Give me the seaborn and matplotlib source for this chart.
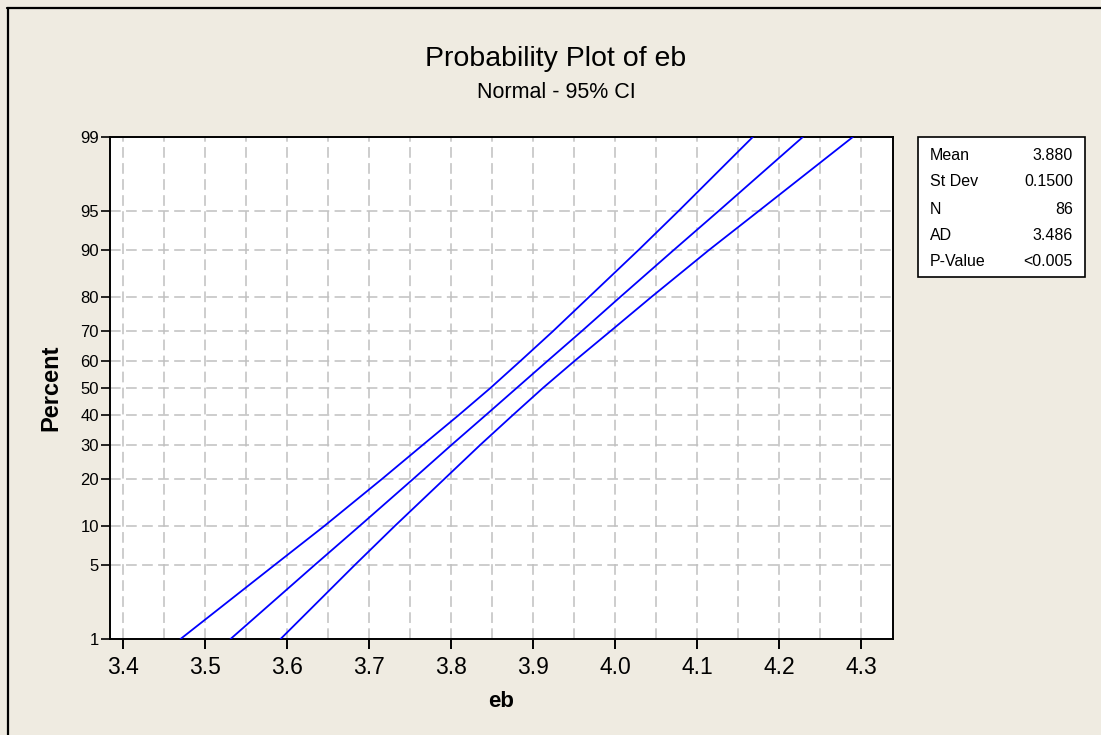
import matplotlib
matplotlib.use("Agg")
import matplotlib.pyplot as plt
from matplotlib.lines import Line2D
from matplotlib.patches import Rectangle
import seaborn as sns
import pandas as pd
import numpy as np
from statistics import NormalDist

# ---- data ----
percent_levels = [1, 5, 10, 20, 30, 40, 50, 60, 70, 80, 90, 95, 99]
fit_eb   = [3.531, 3.633, 3.688, 3.754, 3.801, 3.842, 3.880, 3.918, 3.959, 4.006, 4.072, 4.127, 4.229]
lower_eb = [3.470, 3.584, 3.645, 3.716, 3.766, 3.809, 3.848, 3.885, 3.924, 3.968, 4.029, 4.078, 4.168]
upper_eb = [3.592, 3.682, 3.731, 3.792, 3.836, 3.875, 3.912, 3.951, 3.994, 4.044, 4.115, 4.176, 4.290]

y_tick_percents = [1, 5, 10, 20, 30, 40, 50, 60, 70, 80, 90, 95, 99]
x_ticks = [3.4, 3.5, 3.6, 3.7, 3.8, 3.9, 4.0, 4.1, 4.2, 4.3]
x_tick_labels = ["3.4", "3.5", "3.6", "3.7", "3.8", "3.9", "4.0", "4.1", "4.2", "4.3"]

stat_labels = ["Mean", "St Dev", "N", "AD", "P-Value"]
stat_values = ["3.880", "0.1500", "86", "3.486", "<0.005"]

title = "Probability Plot of eb"
subtitle = "Normal - 95% CI"

# ---- build long-form table ----
nd = NormalDist()
rows = []
for name, xs in [("lower", lower_eb), ("fit", fit_eb), ("upper", upper_eb)]:
    for p, xv in zip(percent_levels, xs):
        rows.append({"line": name, "eb": xv, "z": nd.inv_cdf(p / 100.0)})
df = pd.DataFrame(rows)

sns.set_style("white")
plt.rcParams["font.family"] = ["Liberation Sans", "DejaVu Sans"]
plt.rcParams["text.color"] = "black"
plt.rcParams["axes.labelcolor"] = "black"

bg = "#EFEBE1"
fig = plt.figure(figsize=(11.01, 7.35), dpi=100, facecolor=bg)
ax = fig.add_axes([110 / 1101, 1 - 639 / 735, (893 - 110) / 1101, (639 - 137) / 735])
ax.set_facecolor("white")

sns.lineplot(data=df, x="eb", y="z", hue="line", units="line", estimator=None,
             sort=False, palette={"lower": "#0000FF", "fit": "#0000FF", "upper": "#0000FF"},
             linewidth=1.3, legend=False, ax=ax, zorder=3)

# axes limits / ticks
ax.set_xlim(3.384, 4.339)
ax.set_ylim(nd.inv_cdf(0.01), nd.inv_cdf(0.99))
ax.set_xticks(x_ticks)
ax.set_xticklabels(x_tick_labels)
ax.set_xticks([t + 0.05 for t in x_ticks[:-1]], minor=True)
ax.set_yticks([nd.inv_cdf(p / 100.0) for p in y_tick_percents])
ax.set_yticklabels([str(p) for p in y_tick_percents])

ax.tick_params(axis="x", which="major", direction="out", length=7, width=1.4,
               labelsize=16.5, pad=5, colors="black", bottom=True)
ax.tick_params(axis="x", which="minor", length=0, bottom=True)
ax.tick_params(axis="y", which="major", direction="out", length=6.5, width=1.2,
               labelsize=12, pad=1.5, colors="black", left=True)

ax.set_axisbelow(True)
grid_kw = dict(color="#C0C0C0", linewidth=1.1, linestyle=(0, (7, 3.5)))
ax.grid(True, axis="x", which="both", **grid_kw)
ax.grid(True, axis="y", which="major", **grid_kw)

for s in ax.spines.values():
    s.set_visible(True)
    s.set_color("black")
    s.set_linewidth(1.4)

ax.set_xlabel("eb", fontsize=16, fontweight="bold", color="black")
ax.set_ylabel("Percent", fontsize=17, fontweight="bold", color="black")
ax.xaxis.set_label_coords(0.5, -0.103)
ax.yaxis.set_label_coords(-0.061, 0.5)

# titles
fig.text(556 / 1101, 1 - 59 / 735, title, ha="center", va="center", fontsize=20.5, color="black")
fig.text(556 / 1101, 1 - 92 / 735, subtitle, ha="center", va="center", fontsize=15.5, color="black")

# stats box
bx0, bx1 = 918 / 1101, 1085 / 1101
by0, by1 = 1 - 277 / 735, 1 - 137 / 735
fig.add_artist(Rectangle((bx0, by0), bx1 - bx0, by1 - by0, transform=fig.transFigure,
                         facecolor="white", edgecolor="black", linewidth=1.2))
row_y = [155, 182, 209, 236, 262]
for lab, val, yy in zip(stat_labels, stat_values, row_y):
    fig.text(930 / 1101, 1 - yy / 735, lab, ha="left", va="center", fontsize=11.5, color="black")
    fig.text(1073 / 1101, 1 - yy / 735, val, ha="right", va="center", fontsize=11.5, color="black")

# outer frame lines (top and left visible in reference)
fig.add_artist(Line2D([7 / 1101, 1.0], [1 - 7.5 / 735, 1 - 7.5 / 735],
                      transform=fig.transFigure, color="black", linewidth=1.6))
fig.add_artist(Line2D([7.5 / 1101, 7.5 / 1101], [0.0, 1 - 7.5 / 735],
                      transform=fig.transFigure, color="black", linewidth=1.6))

fig.savefig("out.png", dpi=100, facecolor=bg)
